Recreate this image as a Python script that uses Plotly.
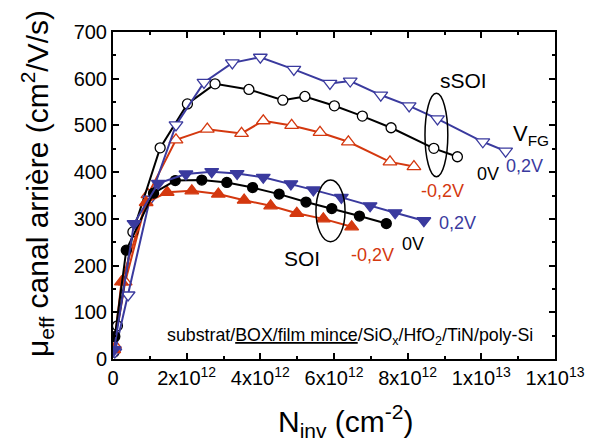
import plotly.graph_objects as go

# ---- data (x in units of 1e12 cm^-2, y in cm^2/V/s) ----
ssoi_p02_x = [0.05, 0.41, 1.0, 1.71, 2.47, 3.24, 4.0, 4.91, 5.89, 6.44, 7.27, 8.04, 8.81, 10.04, 10.66]
ssoi_p02_y = [15, 137, 342, 501, 592, 634, 646, 620, 590, 595, 565, 542, 514, 465, 445]

ssoi_0_x = [0.03, 0.12, 0.54, 1.28, 2.02, 2.77, 3.69, 4.61, 5.21, 6.01, 6.77, 7.55, 8.71, 9.35]
ssoi_0_y = [15, 71, 272, 452, 546, 589, 577, 554, 562, 542, 520, 495, 451, 433]

ssoi_m02_x = [0.04, 0.33, 0.95, 1.71, 2.56, 3.49, 4.08, 4.85, 5.62, 6.39, 7.52, 8.17]
ssoi_m02_y = [30, 165, 352, 469, 492, 483, 510, 500, 485, 465, 422, 412]

soi_p02_x = [0.03, 0.57, 1.23, 1.98, 2.68, 3.37, 4.08, 4.83, 5.44, 6.2, 6.98, 7.66, 8.44]
soi_p02_y = [20, 290, 376, 396, 401, 397, 389, 375, 362, 346, 328, 313, 296]

soi_0_x = [0.05, 0.36, 1.1, 1.69, 2.41, 3.09, 3.79, 4.51, 5.24, 5.94, 6.69, 7.42]
soi_0_y = [48, 233, 355, 382, 383, 378, 367, 353, 336, 322, 306, 290]

soi_m02_x = [0.02, 0.23, 0.9, 1.47, 2.14, 2.86, 3.56, 4.28, 4.99, 5.71, 6.48]
soi_m02_y = [20, 165, 335, 357, 360, 353, 340, 328, 312, 300, 283]

x_tick_vals = [0, 2e12, 4e12, 6e12, 8e12, 1e13, 1.2e13]
x_tick_text = ["0", "2x10<sup>12</sup>", "4x10<sup>12</sup>", "6x10<sup>12</sup>",
               "8x10<sup>12</sup>", "1x10<sup>13</sup>", "1x10<sup>13</sup>"]
y_tick_vals = [0, 100, 200, 300, 400, 500, 600, 700]

BLUE = "#3a3a9e"
RED = "#d4380f"
BLACK = "#000000"
FONT = "Liberation Sans, Arial, sans-serif"

def scale(xs):
    return [v * 1e12 for v in xs]

fig = go.Figure()

def add(xs, ys, color, symbol, filled, size):
    fig.add_trace(go.Scatter(
        x=scale(xs), y=ys, mode="lines+markers",
        line=dict(color=color, width=2),
        marker=dict(symbol=symbol, size=size,
                    color=color if filled else "white",
                    line=dict(color=color, width=1.3)),
        showlegend=False))

add(ssoi_m02_x, ssoi_m02_y, RED, "triangle-up", False, 12)
add(ssoi_0_x, ssoi_0_y, BLACK, "circle", False, 10)
add(ssoi_p02_x, ssoi_p02_y, BLUE, "triangle-down", False, 12)
add(soi_m02_x, soi_m02_y, RED, "triangle-up", True, 12)
add(soi_0_x, soi_0_y, BLACK, "circle", True, 10)
add(soi_p02_x, soi_p02_y, BLUE, "triangle-down", True, 12)

# ellipses
fig.add_shape(type="circle", xref="x", yref="y", x0=8.47e12, x1=9.09e12, y0=390, y1=569,
              line=dict(color="black", width=1.5))
fig.add_shape(type="circle", xref="x", yref="y", x0=5.51e12, x1=6.30e12, y0=251, y1=383,
              line=dict(color="black", width=1.5))

def ann(x_px, y_px, text, color, size, xanchor="center"):
    # reference pixel position -> data coords
    xv = (x_px - 113) / 442 * 1.2e13
    yv = (359 - y_px) / 327 * 700
    fig.add_annotation(x=xv, y=yv, xref="x", yref="y", text=text, showarrow=False,
                       font=dict(family=FONT, size=size, color=color), xanchor=xanchor,
                       yanchor="middle")

ann(463, 80, "sSOI", BLACK, 21)
ann(302, 258, "SOI", BLACK, 21)
ann(531, 135, "V<sub>FG</sub>", BLACK, 22)
ann(524, 166, "0,2V", BLUE, 18)
ann(488, 174, "0V", BLACK, 18)
ann(442, 191, "-0,2V", RED, 18)
ann(457, 223, "0,2V", BLUE, 18)
ann(413, 244, "0V", BLACK, 18)
ann(372, 255, "-0,2V", RED, 18)
ann(350, 336, "substrat/<u>BOX/film mince</u>/SiO<sub>x</sub>/HfO<sub>2</sub>/TiN/poly-Si", BLACK, 17.8)

# axis titles as annotations
fig.add_annotation(xref="paper", yref="paper", x=(346 - 113) / 442, y=(359 - 421) / 327,
                   text="N<sub>inv</sub> (cm<sup>-2</sup>)", showarrow=False,
                   font=dict(family=FONT, size=30, color="black"), xanchor="center", yanchor="middle")
fig.add_annotation(xref="paper", yref="paper", x=(37 - 113) / 442, y=(359 - 184) / 327,
                   text="μ<sub>eff</sub> canal arrière (cm<sup>2</sup>/V/s)", showarrow=False,
                   textangle=-90,
                   font=dict(family=FONT, size=30, color="black"), xanchor="center", yanchor="middle")

axis_common = dict(showline=True, linecolor="black", linewidth=2, mirror="allticks",
                   ticks="inside", ticklen=6, tickwidth=1.5, tickcolor="black",
                   showgrid=False, zeroline=False,
                   tickfont=dict(family=FONT, size=20, color="black"))

fig.update_xaxes(range=[0, 1.2e13], tickmode="array", tickvals=x_tick_vals, ticktext=x_tick_text,
                 minor=dict(ticks="inside", ticklen=3, tickwidth=1.5, tickcolor="black", dtick=1e12,
                            tick0=0, showgrid=False),
                 **axis_common)
fig.update_yaxes(range=[0, 700], tickmode="array", tickvals=y_tick_vals,
                 minor=dict(ticks="inside", ticklen=3, tickwidth=1.5, tickcolor="black", dtick=50,
                            tick0=0, showgrid=False),
                 **axis_common)

# page body has an 8px margin, so the figure is shifted by 8px; compensate
fig.update_layout(width=591, height=439, margin=dict(l=105, r=44, t=24, b=88),
                  plot_bgcolor="white", paper_bgcolor="white",
                  font=dict(family=FONT, color="black"))

fig.write_html("out.html")
